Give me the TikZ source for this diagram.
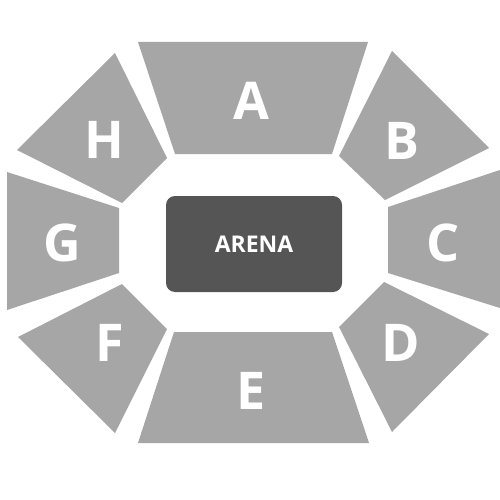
\documentclass[tikz,border=0pt]{standalone}
\usepackage{fontspec}
\setmainfont{Open Sans}
\begin{document}
\begin{tikzpicture}[x=1pt,y=-1pt,
  seat/.style={fill=sectgray,draw=none},
  lbl/.style={text=white,font=\fontsize{52}{52}\selectfont\bfseries,inner sep=0pt},
]
\definecolor{sectgray}{HTML}{A6A6A6}
\definecolor{arenagray}{HTML}{555555}
\useasboundingbox (0,0) rectangle (500,500);
\fill[white] (0,0) rectangle (500,500);
% sections
\fill[seat] (138,42) -- (368,42) -- (332,154) -- (175,154) -- cycle;   % A
\fill[seat] (392,51) -- (489,148) -- (385,200) -- (339,156) -- cycle;  % B
\fill[seat] (388,207) -- (500,170) -- (500,308) -- (388,273) -- cycle; % C
\fill[seat] (384,282) -- (489,334) -- (392,432) -- (339,327) -- cycle; % D
\fill[seat] (174,332) -- (332,332) -- (369,443) -- (138,443) -- cycle; % E
\fill[seat] (122,284) -- (167,329) -- (115,433) -- (18,337) -- cycle;  % F
\fill[seat] (7,172) -- (119,208) -- (119,273) -- (7,310) -- cycle;     % G
\fill[seat] (115,53) -- (167,158) -- (122,203) -- (17,150) -- cycle;   % H
% arena
\node[fill=arenagray,rounded corners=9pt,minimum width=176pt,minimum height=96pt,inner sep=0pt,
  text=white,font=\fontsize{23}{23}\selectfont\bfseries] (arena) at (254,244) {ARENA};
% labels
\node[lbl] (la) at (251,101) {A};
\node[lbl] (lb) at (402,141) {B};
\node[lbl] (lc) at (443,243) {C};
\node[lbl] (ld) at (401,343) {D};
\node[lbl] (le) at (251,391) {E};
\node[lbl] (lf) at (110,343) {F};
\node[lbl] (lg) at (62,243) {G};
\node[lbl] (lh) at (104,140) {H};
\end{tikzpicture}
\end{document}
